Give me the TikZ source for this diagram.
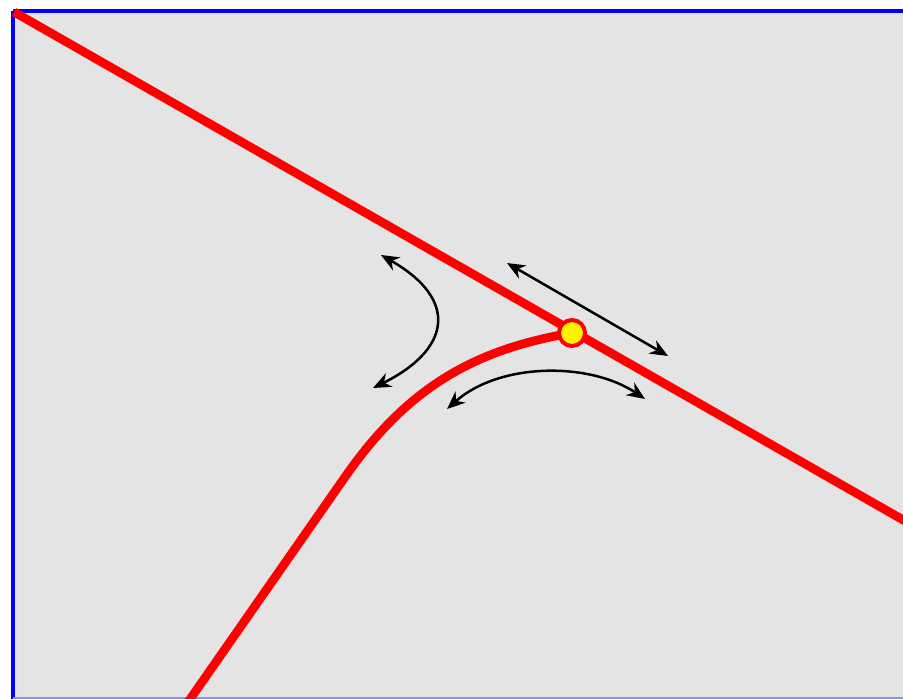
\documentclass[tikz,border=0pt]{standalone}
\usepackage{xcolor}
\usetikzlibrary{arrows.meta}
\definecolor{panel}{RGB}{228,228,228}
\tikzset{
  rail/.style={draw=red, line width=0.175cm},
  swing/.style={{Stealth[length=0.36cm,width=0.3cm]}-{Stealth[length=0.36cm,width=0.3cm]}, line width=0.05cm, black},
  junction/.style={circle, fill=yellow, draw=red, line width=0.08cm, minimum size=0.52cm, inner sep=0pt},
}

\begin{document}
\begin{tikzpicture}[x=0.02cm, y=-0.02cm]
  \useasboundingbox (0,0) rectangle (903,699);
  \clip (0,0) rectangle (903,699);
  % panel, with its blue edges
  \fill[panel] (13,11) rectangle (905,701);
  \draw[blue, line width=0.07cm] (13,11) -- (905,11);
  \draw[blue, line width=0.07cm] (13,11) -- (13,701);
  \draw[blue!45, line width=0.03cm] (13,698) -- (905,698);
  % the two red tracks
  \coordinate (top) at (14,12);
  \coordinate (far) at (912,525);
  \coordinate (foot) at (186,705);
  \coordinate (bend) at (345,477);
  \coordinate (hub) at (572,333);
  \draw[rail] (top) -- (far);
  \draw[rail] (foot) -- (bend) .. controls (405,391) and (470,350) .. (hub);
  \node[junction] (knob) at (hub) {};
  % motion arrows
  \coordinate (l1) at (381,255);
  \coordinate (l2) at (373,388);
  \coordinate (s1) at (507,263);
  \coordinate (s2) at (668,356);
  \coordinate (b1) at (447,409);
  \coordinate (b2) at (645,399);
  \draw[swing] (l1) .. controls (460,300) and (450,350) .. (l2);
  \draw[swing] (s1) -- (s2);
  \draw[swing] (b1) .. controls (500,362) and (590,362) .. (b2);
\end{tikzpicture}
\end{document}
